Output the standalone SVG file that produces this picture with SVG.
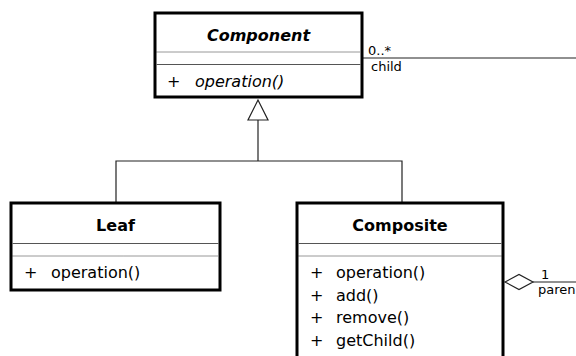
<svg xmlns="http://www.w3.org/2000/svg" width="576" height="356" viewBox="0 0 576 356">
  <style>
    .box { fill: #ffffff; stroke: #000000; stroke-width: 3; }
    .sep { stroke: #555555; stroke-width: 1; }
    .dot { stroke: #333333; stroke-width: 1; stroke-dasharray: 1 1; }
    .title { font-family: "DejaVu Sans", sans-serif; font-size: 16px; font-weight: bold; text-anchor: middle; fill: #000; }
    .op { font-family: "DejaVu Sans", sans-serif; font-size: 16px; fill: #000; }
    .it { font-style: italic; }
    .lbl { font-family: "DejaVu Sans", sans-serif; font-size: 13px; fill: #000; }
    .conn { fill: none; stroke: #222222; stroke-width: 1.2; }
    .head { fill: #ffffff; stroke: #222222; stroke-width: 1.2; }
  </style>
  <rect width="576" height="356" fill="#ffffff"/>

  <g id="connectors">
    <!-- generalization -->
    <polyline class="conn" points="116,203 116,161 402,161 402,203"/>
    <line class="conn" x1="258" y1="161" x2="258" y2="120"/>
    <polygon class="head" points="258,100 248,120 268,120"/>
    <!-- association child -->
    <line class="conn" x1="363" y1="58" x2="576" y2="58"/>
    <text class="lbl" x="368" y="55">0..*</text>
    <text class="lbl" x="371" y="71">child</text>
    <!-- aggregation parent -->
    <line class="conn" x1="533" y1="282" x2="576" y2="282"/>
    <polygon class="head" points="505,282 519,274.5 533,282 519,289.5"/>
    <text class="lbl" x="541" y="279">1</text>
    <text class="lbl" x="538" y="294">paren</text>
  </g>

  <g id="component">
    <rect class="box" x="155" y="13" width="207" height="84"/>
    <text class="title it" x="258.5" y="41">Component</text>
    <line class="dot" x1="156.5" y1="52" x2="360.5" y2="52"/>
    <line class="sep" x1="156.5" y1="64.5" x2="360.5" y2="64.5"/>
    <text class="op" x="167" y="87">+</text>
    <text class="op it" x="195" y="87">operation()</text>
  </g>

  <g id="leaf">
    <rect class="box" x="11" y="203" width="209" height="87"/>
    <text class="title" x="115.5" y="231">Leaf</text>
    <line class="sep" x1="12.5" y1="243.5" x2="218.5" y2="243.5"/>
    <line class="dot" x1="12.5" y1="256" x2="218.5" y2="256"/>
    <text class="op" x="24" y="278">+</text>
    <text class="op" x="51" y="278">operation()</text>
  </g>

  <g id="composite">
    <rect class="box" x="297" y="203" width="206" height="155"/>
    <text class="title" x="400" y="231">Composite</text>
    <line class="sep" x1="298.5" y1="243.5" x2="501.5" y2="243.5"/>
    <line class="dot" x1="298.5" y1="256" x2="501.5" y2="256"/>
    <text class="op" x="310" y="278">+</text>
    <text class="op" x="336" y="278">operation()</text>
    <text class="op" x="310" y="300.5">+</text>
    <text class="op" x="336" y="300.5">add()</text>
    <text class="op" x="310" y="323">+</text>
    <text class="op" x="336" y="323">remove()</text>
    <text class="op" x="310" y="346">+</text>
    <text class="op" x="336" y="346">getChild()</text>
  </g>
</svg>
